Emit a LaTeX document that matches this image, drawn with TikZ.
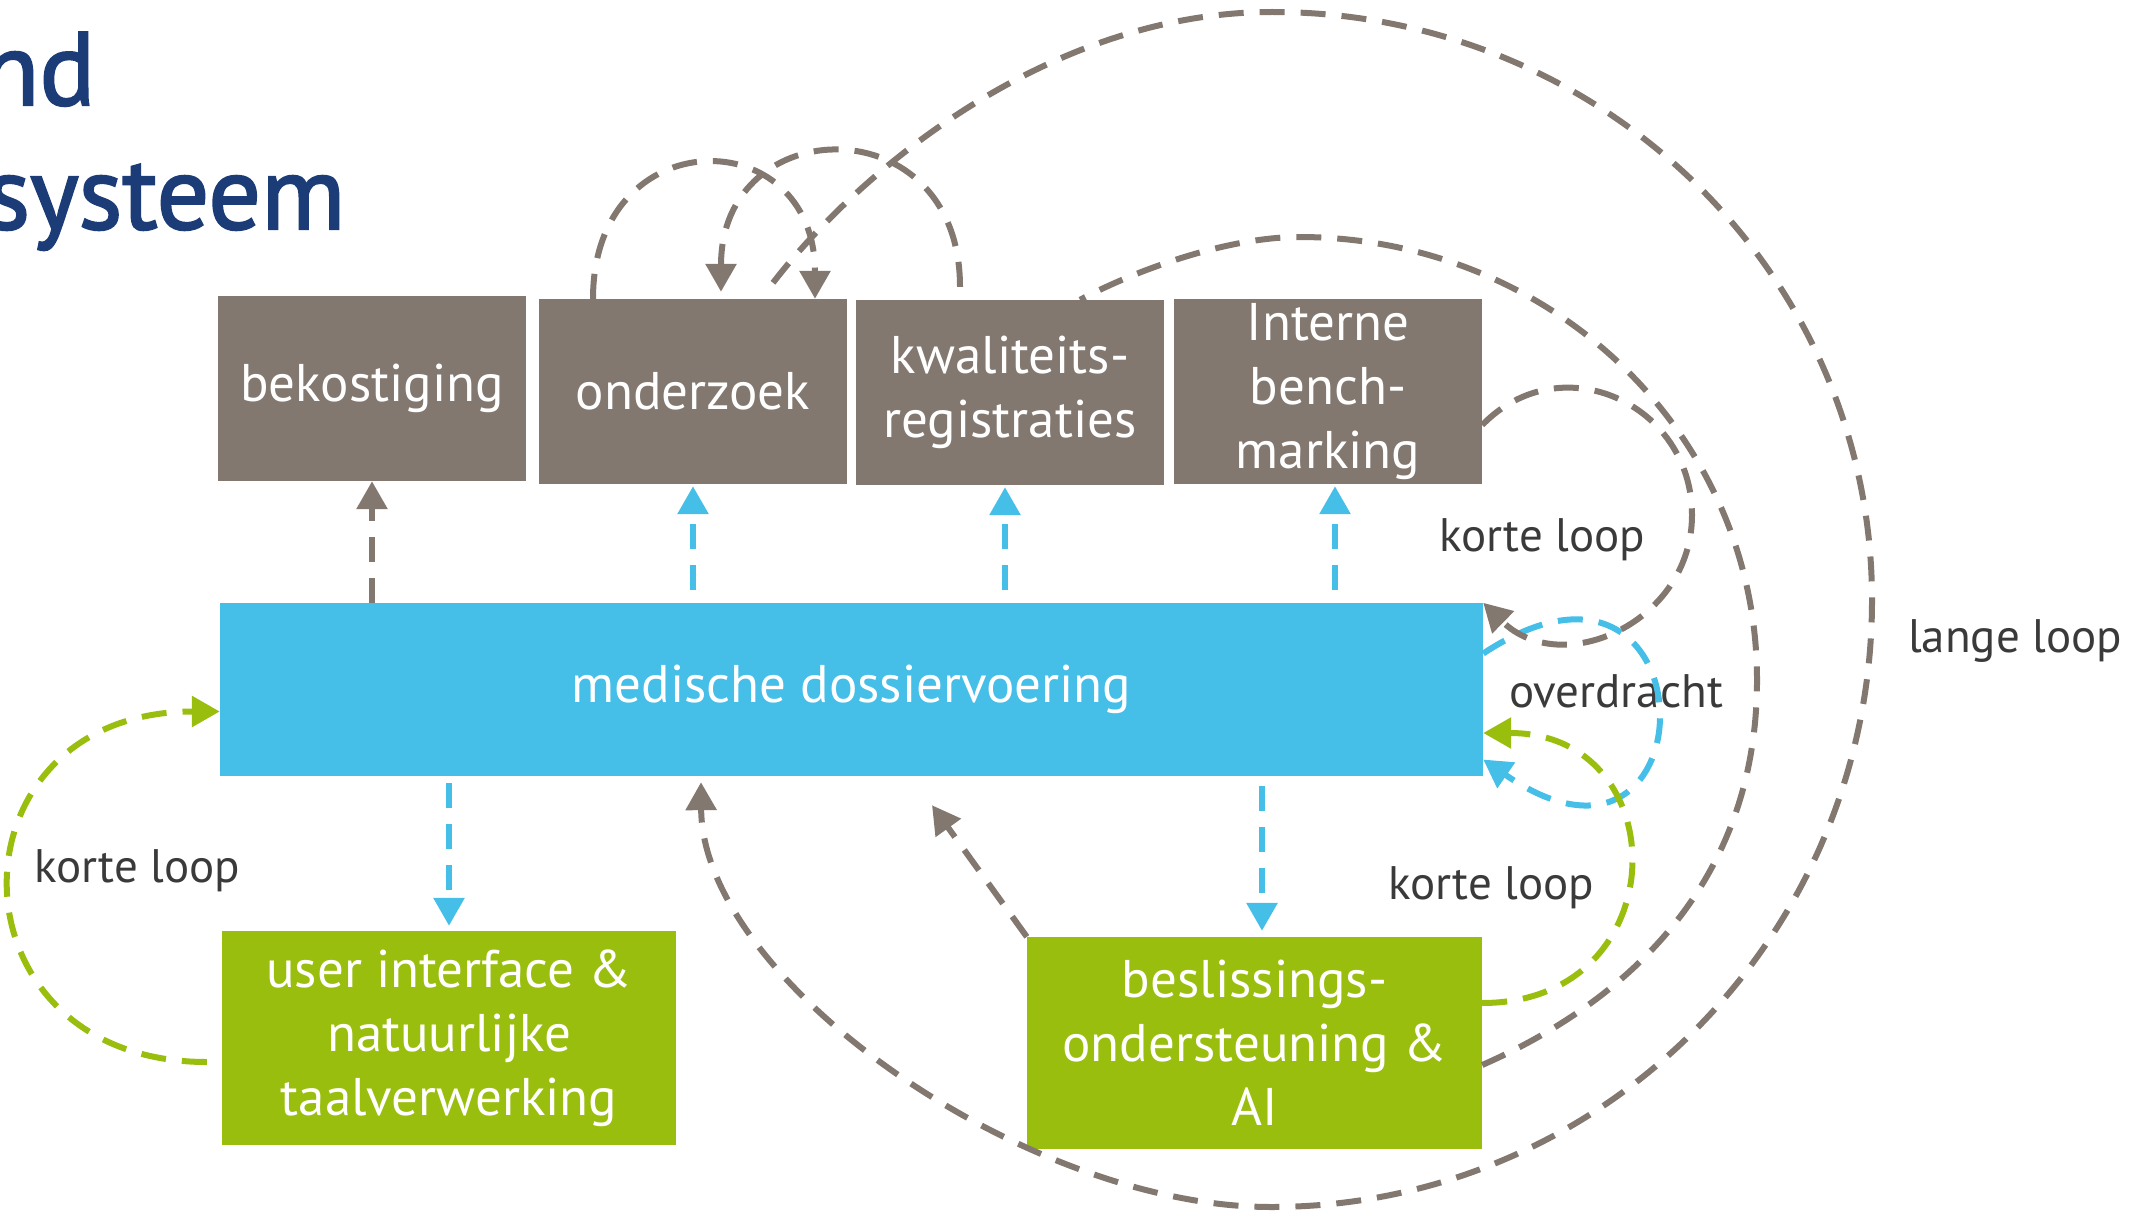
\documentclass[tikz,border=0pt]{standalone}
\usepackage{fontspec}
\setmainfont{PT Sans}
\newfontfamily\headfont{PT Sans}[FakeBold=2]
\usetikzlibrary{arrows.meta}
\definecolor{taupe}{HTML}{837870}
\definecolor{sky}{HTML}{45BEE8}
\definecolor{lime}{HTML}{9ABE0E}
\definecolor{navy}{HTML}{1C3C78}
\definecolor{ink}{HTML}{3A3A3A}

\begin{document}
\begin{tikzpicture}[x=1pt,y=-1pt,
  box/.style={inner sep=0pt,align=center,text=white,font=\fontsize{53}{64}\selectfont},
  topbox/.style={box,fill=taupe,minimum width=308pt,minimum height=185pt},
  title/.style={anchor=base east,text=navy,font=\headfont\fontsize{104}{124}\selectfont},
  line/.style={line width=6pt,dash pattern=on 25pt off 16pt},
  link/.style={line,-{Triangle[length=28pt,width=30pt]}},
  tag/.style={anchor=base,text=ink,font=\fontsize{47}{56}\selectfont}]
\useasboundingbox (0,0) rectangle (2138,1217);

\node[title] (t1) at (99,105) {nd};
\node[title] (t2) at (349,229) {systeem};

\node[topbox] (bek) at (372,388.5) {bekostiging};
\node[topbox] (ond) at (693,391.5) {onderzoek};
\node[topbox] (kwal) at (1010,392.5) {kwaliteits-\\registraties};
\node[topbox] (intb) at (1328,391.5) {Interne\\bench-\\marking};
\node[box,fill=sky,minimum width=1263pt,minimum height=173pt] (med) at (851.5,689.5) {medische dossiervoering};
\node[box,fill=lime,minimum width=454pt,minimum height=214pt] (ui) at (449,1038) {user interface \&\\natuurlijke\\taalverwerking};
\node[box,fill=lime,minimum width=455pt,minimum height=212pt] (bes) at (1254.5,1043) {beslissings-\\ondersteuning \&\\AI};

\node[tag] (k1) at (137,882) {korte loop};
\node[tag] (k2) at (1542,551) {korte loop};
\node[tag] (ov) at (1616,707) {overdracht};
\node[tag] (k3) at (1491,899) {korte loop};
\node[tag] (ll) at (2015,652) {lange loop};

\draw[link,taupe] (med.north -| bek.south) -- (bek.south);
\draw[link,sky,shorten <=13pt,shorten >=2pt] (ond.south |- med.north) -- (ond.south);
\draw[link,sky,shorten <=13pt,shorten >=2pt] ([xshift=-5pt]kwal.south |- med.north) -- ([xshift=-5pt]kwal.south);
\draw[link,sky,shorten <=13pt,shorten >=2pt] ([xshift=7pt]intb.south |- med.north) -- ([xshift=7pt]intb.south);
\draw[link,sky,shorten <=7pt,shorten >=5pt] (med.south -| ui.north) -- (ui.north);
\draw[link,sky,shorten <=10pt,shorten >=6pt] ([xshift=7.5pt]med.south -| bes.north) -- ([xshift=7.5pt]bes.north);

\draw[link,sky] ([yshift=36pt]med.east) .. controls +(232,-153) and +(232,160) .. ([yshift=-70pt]med.east);
\draw[link,taupe] ([yshift=-33.5pt]intb.east) .. controls (1561,344) and (1692,404) .. (1692,515)
  .. controls (1692,622) and (1562,680) .. (med.north east);
\draw[link,lime] ([yshift=40pt]bes.east) .. controls +(195,0) and +(195,0) .. ([yshift=-43.5pt]med.east);
\draw[link,lime] ([xshift=-15pt,yshift=-24pt]ui.west) .. controls +(-264,0) and +(-278,0) .. ([yshift=-22pt]med.west);

\draw[line,taupe] ([yshift=-22pt]bes.east) .. controls (1630,1000) and (1757,880) .. (1757,680)
  .. controls (1757,435) and (1552,237) .. (1299,237)
  .. controls (1230,237) and (1140,268) .. ([xshift=70pt]kwal.north);
\draw[link,taupe] ([xshift=80pt,yshift=16pt]ond.north) .. controls (860,170) and (1050,12) .. (1272,12)
  .. controls (1603,12) and (1872,275) .. (1872,600)
  .. controls (1872,935) and (1603,1207) .. (1271,1207)
  .. controls (1025,1207) and (702,980) .. ([xshift=-150.5pt,yshift=-6pt]med.south);
\draw[link,taupe] ([xshift=-100pt]ond.north) .. controls +(0,-179) and +(0,-179) .. ([xshift=122pt]ond.north);
\draw[link,taupe] ([xshift=-50pt,yshift=13pt]kwal.north) .. controls +(0,-182) and +(0,-182) .. ([xshift=28pt,yshift=7pt]ond.north);
\draw[link,taupe] (bes.north west) -- ([xshift=80.5pt,yshift=-29pt]med.south);
\end{tikzpicture}
\end{document}
